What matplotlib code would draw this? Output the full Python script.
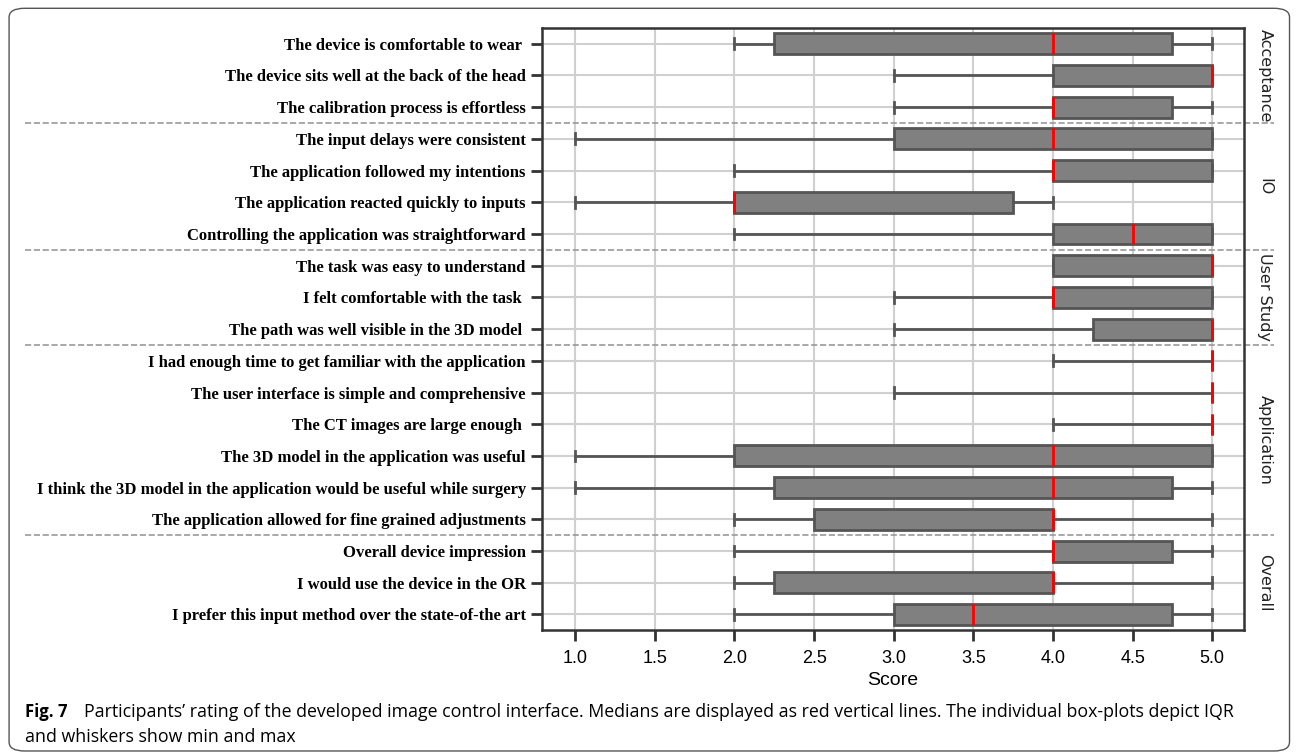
import matplotlib.pyplot as plt
import matplotlib.transforms as mtransforms
from matplotlib.patches import FancyBboxPatch

# questionnaire items, top to bottom
questions = [
    "The device is comfortable to wear ",
    "The device sits well at the back of the head",
    "The calibration process is effortless",
    "The input delays were consistent",
    "The application followed my intentions",
    "The application reacted quickly to inputs",
    "Controlling the application was straightforward",
    "The task was easy to understand",
    "I felt comfortable with the task ",
    "The path was well visible in the 3D model ",
    "I had enough time to get familiar with the application",
    "The user interface is simple and comprehensive",
    "The CT images are large enough ",
    "The 3D model in the application was useful",
    "I think the 3D model in the application would be useful while surgery",
    "The application allowed for fine grained adjustments",
    "Overall device impression",
    "I would use the device in the OR",
    "I prefer this input method over the state-of-the art",
]
mins    = [2, 3, 3, 1, 2, 1, 2, 4, 3, 3, 4, 3, 4, 1, 1, 2, 2, 2, 2]
q1s     = [2.25, 4, 4, 3, 4, 2, 4, 4, 4, 4.25, 5, 5, 5, 2, 2.25, 2.5, 4, 2.25, 3]
medians = [4, 5, 4, 4, 4, 2, 4.5, 5, 4, 5, 5, 5, 5, 4, 4, 4, 4, 4, 3.5]
q3s     = [4.75, 5, 4.75, 5, 5, 3.75, 5, 5, 5, 5, 5, 5, 5, 5, 4.75, 4, 4.75, 4, 4.75]
maxs    = [5, 5, 5, 5, 5, 4, 5, 5, 5, 5, 5, 5, 5, 5, 5, 5, 5, 5, 5]

groups = ["Acceptance", "IO", "User Study", "Application", "Overall"]
group_sizes = [3, 4, 3, 6, 3]

fig = plt.figure(figsize=(12.96, 7.54), dpi=100)
ax = fig.add_axes([0.418, 0.164, 0.542, 0.799])

stats = []
for i in range(len(questions)):
    stats.append(dict(med=medians[i], q1=q1s[i], q3=q3s[i],
                      whislo=mins[i], whishi=maxs[i], label=questions[i]))

pos = list(range(1, len(questions) + 1))
edge = "#555555"
ax.bxp(stats, positions=pos, orientation="horizontal", widths=0.66,
       capwidths=0.34, showfliers=False, patch_artist=True,
       boxprops=dict(facecolor="#808080", edgecolor=edge, linewidth=2),
       whiskerprops=dict(color=edge, linewidth=2),
       capprops=dict(color=edge, linewidth=2),
       medianprops=dict(color="red", linewidth=2), zorder=3)

ax.set_xlim(0.79, 5.2)
ax.set_ylim(len(questions) + 0.5, 0.5)
ax.set_xticks([1.0, 1.5, 2.0, 2.5, 3.0, 3.5, 4.0, 4.5, 5.0])
ax.set_xticklabels(["%.1f" % v for v in ax.get_xticks()],
                   fontfamily="Liberation Sans", fontsize=13)
ax.set_yticks(pos)
ax.set_yticklabels(questions, fontfamily="Liberation Serif",
                   fontweight="bold", fontsize=12)
ax.grid(True, color="#d0d0d0", linewidth=1.5, zorder=0)
ax.set_axisbelow(True)
ax.tick_params(axis="both", length=8, width=2, color="#333333")
ax.tick_params(axis="x", pad=6)
for s in ax.spines.values():
    s.set_color("#333333")
    s.set_linewidth(1.8)
ax.set_xlabel("Score", fontfamily="Liberation Sans", fontsize=14, labelpad=4)

# group separators and labels on the right
trans = mtransforms.blended_transform_factory(fig.transFigure, ax.transData)
start = 0
for k, (g, n) in enumerate(zip(groups, group_sizes)):
    mid = start + (n + 1) / 2
    ax.text(0.976, mid, g, transform=trans, rotation=-90, ha="center",
            va="center", fontsize=11.5, color="#222222")
    start += n
    if k < len(groups) - 1:
        ax.plot([0.019, 0.983], [start + 0.5, start + 0.5], transform=trans,
                color="#999999", linestyle="--", linewidth=1.2, clip_on=False)

# caption and frame
fig.text(0.019, 0.056, "Fig. 7", fontfamily="Open Sans", fontweight="bold",
         fontsize=12, va="center")
fig.text(0.065, 0.056, "Participants\u2019 rating of the developed image control interface. "
         "Medians are displayed as red vertical lines. The individual box-plots depict IQR",
         fontfamily="Open Sans", fontsize=12.8, va="center")
fig.text(0.019, 0.023, "and whiskers show min and max",
         fontfamily="Open Sans", fontsize=12.8, va="center")
frame = FancyBboxPatch((0.007, 0.004), 0.988, 0.985, transform=fig.transFigure,
                       boxstyle="round,pad=0,rounding_size=0.012",
                       facecolor="none", edgecolor="#555555", linewidth=1)
fig.patches.append(frame)

fig.savefig("out.png", dpi=100)
